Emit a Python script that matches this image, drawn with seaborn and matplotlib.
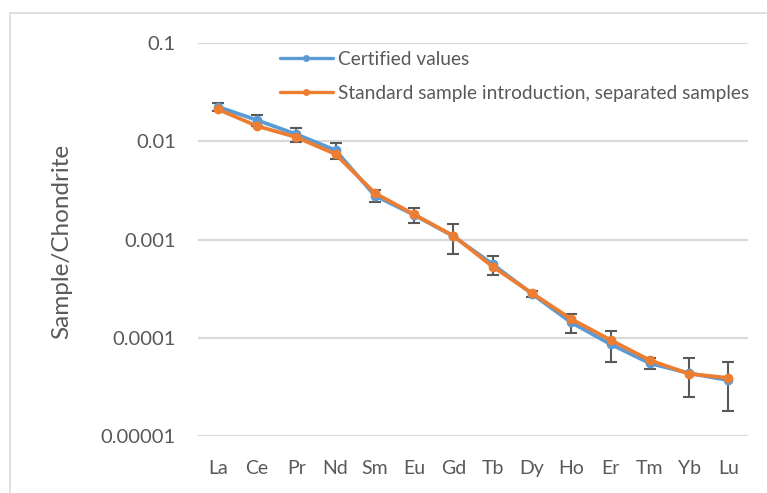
import matplotlib
matplotlib.use("Agg")
import matplotlib.pyplot as plt
from matplotlib.patches import Rectangle
import seaborn as sns
import pandas as pd

elements = ["La", "Ce", "Pr", "Nd", "Sm", "Eu", "Gd", "Tb", "Dy", "Ho", "Er", "Tm", "Yb", "Lu"]
certified = [0.0225, 0.0164, 0.0118, 0.0081, 0.0028, 0.00178, 0.00108, 0.00056, 0.00028,
             0.000143, 0.000086, 0.000055, 0.0000435, 0.000037]
certified_err = [0.002, 0.0022, 0.002, 0.0015, 0.0004, 0.0003, 0.00036, 0.00012, 0.00002,
                 0.00003, 0.00003, 0.000007, 0.0000185, 0.000019]
separated = [0.0212, 0.0143, 0.011, 0.0074, 0.00297, 0.0018, 0.00109, 0.00053, 0.000285,
             0.000155, 0.000095, 0.000059, 0.000043, 0.000039]
ytick_vals = [0.00001, 0.0001, 0.001, 0.01, 0.1]
ytick_labels = ["0.00001", "0.0001", "0.001", "0.01", "0.1"]
label_cert = "Certified values"
label_sep = "Standard sample introduction, separated samples"

sns.set_theme(style="white")
plt.rcParams["font.family"] = ["Lato", "DejaVu Sans"]

df = pd.DataFrame({"Element": elements * 2,
                   "Value": certified + separated,
                   "Series": [label_cert] * len(elements) + [label_sep] * len(elements)})

fig = plt.figure(figsize=(7.67, 4.93), dpi=100)
ax = fig.add_axes([198 / 767, 1 - 436 / 493, 550 / 767, (436 - 43) / 493])

# outer chart frame
fig.patches.append(Rectangle((10 / 767, -0.2), 2.0, 1.2 - 13 / 493, transform=fig.transFigure,
                             fill=False, edgecolor="#d9d9d9", linewidth=1.2, zorder=0))

ax.errorbar(elements, certified, yerr=certified_err, fmt="none", ecolor="#595959",
            elinewidth=1.5, capsize=4.5, capthick=1.5, zorder=2)

sns.lineplot(data=df, x="Element", y="Value", hue="Series",
             palette=["#5B9BD5", "#ED7D31"], marker="o", markersize=7,
             markeredgewidth=0, linewidth=2.7, sort=False, ax=ax, zorder=3)

ax.set_yscale("log")
ax.set_ylim(0.00001, 0.1)
ax.set_xlim(-0.5, len(elements) - 0.5)
ax.set_yticks(ytick_vals)
ax.set_yticklabels(ytick_labels)
ax.yaxis.set_minor_locator(matplotlib.ticker.NullLocator())
ax.grid(axis="y", color="#d9d9d9", linewidth=1.6)
ax.grid(axis="x", visible=False)
for s in ax.spines.values():
    s.set_visible(False)
ax.tick_params(axis="y", length=0, pad=16, labelsize=14.5, labelcolor="#595959")
ax.tick_params(axis="x", length=0, pad=17, labelsize=14, labelcolor="#595959")
ax.set_xlabel("")
ax.set_ylabel("Sample/Chondrite", fontsize=17.5, color="#595959")
ax.yaxis.set_label_coords(72 / 767, 1 - 241 / 493, transform=fig.transFigure)

leg = ax.legend(loc="upper left", bbox_to_anchor=(280 / 767, 1 - 51 / 493),
                bbox_transform=fig.transFigure, frameon=False, fontsize=13.8,
                borderpad=0, borderaxespad=0, labelspacing=0.88,
                handlelength=2.75, handletextpad=0.3)
for t in leg.get_texts():
    t.set_color("#595959")
for h in leg.legend_handles:
    h.set_markersize(5)
    h.set_linewidth(2.4)

fig.savefig("out.png", dpi=100)
